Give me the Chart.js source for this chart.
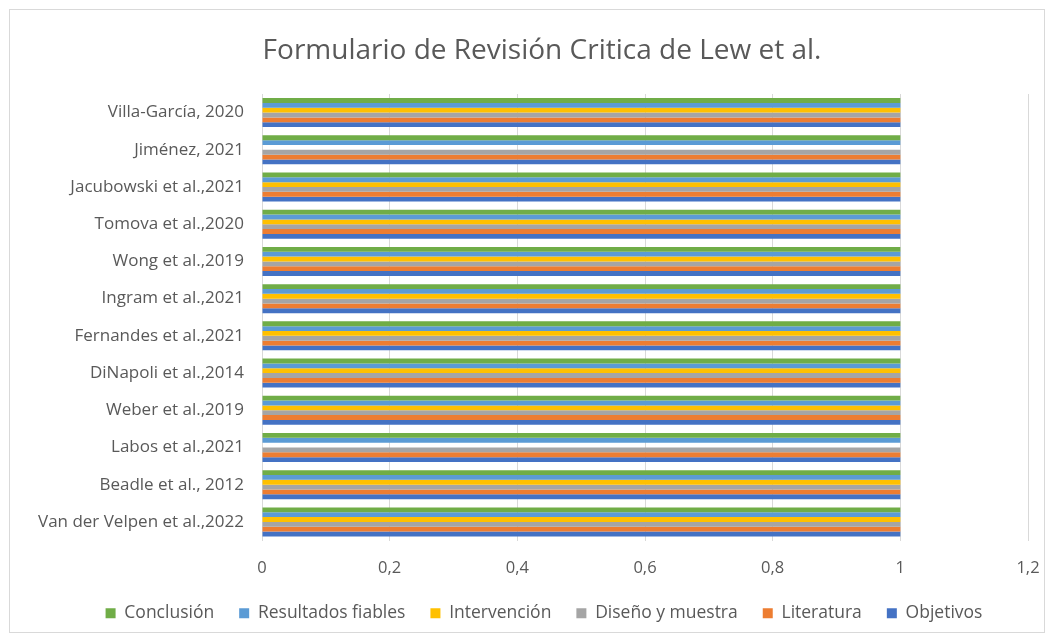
<!DOCTYPE html>
<html>
<head>
<meta charset="utf-8">
<script src="https://cdn.jsdelivr.net/npm/chart.js@4"></script>
<style>
  body { margin: 0; background: #fff; }
  #wrap { position: absolute; left: 9px; top: 9px; width: 1036px; height: 624px; border: 1px solid #d9d9d9; box-sizing: border-box; }
  #titulo { position: absolute; left: 0; top: 30px; width: 1084px; text-align: center; font-family: "Open Sans", "Noto Sans", sans-serif; font-size: 28px; color: #595959; line-height: 36px; }
  canvas { display: block; }
</style>
</head>
<body>
<div id="wrap"><canvas id="chart" width="1034" height="622"></canvas></div>
<div id="titulo">Formulario de Revisión Critica de Lew et al.</div>
<script>
const estudios = [
    'Villa-García, 2020',
    'Jiménez, 2021',
    'Jacubowski et al.,2021',
    'Tomova et al.,2020',
    'Wong et al.,2019',
    'Ingram et al.,2021',
    'Fernandes et al.,2021',
    'DiNapoli et al.,2014',
    'Weber et al.,2019',
    'Labos et al.,2021',
    'Beadle et al., 2012',
    'Van der Velpen et al.,2022'
];

const conclusion   = [1, 1, 1, 1, 1, 1, 1, 1, 1, 1, 1, 1];
const resultados   = [1, 1, 1, 1, 1, 1, 1, 1, 1, 1, 1, 1];
const intervencion = [1, 0, 1, 1, 1, 1, 1, 1, 1, 0, 1, 1];
const diseno       = [1, 1, 1, 1, 1, 1, 1, 1, 1, 1, 1, 1];
const literatura   = [1, 1, 1, 1, 1, 1, 1, 1, 1, 1, 1, 1];
const objetivos    = [1, 1, 1, 1, 1, 1, 1, 1, 1, 1, 1, 1];

const textColor = '#595959';
const fontFamily = '"Open Sans", "Noto Sans", sans-serif';

function serie(label, data, color) {
    return {
        label: label,
        data: data,
        backgroundColor: color,
        borderWidth: 0,
        barPercentage: 1,
        categoryPercentage: 0.78
    };
}

// let the long category labels run past the left padding instead of being clipped
const labelsSinRecorte = {
    id: 'labelsSinRecorte',
    afterLayout(chart) { chart.scales.y.left = 0; }
};

const ctx = document.getElementById('chart').getContext('2d');
new Chart(ctx, {
    type: 'bar',
    data: {
        labels: estudios,
        datasets: [
            serie('Conclusión', conclusion, '#70AD47'),
            serie('Resultados fiables', resultados, '#5B9BD5'),
            serie('Intervención', intervencion, '#FFC000'),
            serie('Diseño y muestra', diseno, '#A5A5A5'),
            serie('Literatura', literatura, '#ED7D31'),
            serie('Objetivos', objetivos, '#4472C4')
        ]
    },
    plugins: [labelsSinRecorte],
    options: {
        indexAxis: 'y',
        responsive: false,
        animation: false,
        layout: { padding: { left: 50, right: 16, top: 84, bottom: 0 } },
        scales: {
            x: {
                min: 0,
                max: 1.2,
                ticks: {
                    stepSize: 0.2,
                    color: textColor,
                    font: { family: fontFamily, size: 16.5 },
                    padding: 18,
                    callback: (v) => (Math.round(v * 10) / 10).toString().replace('.', ',')
                },
                grid: { color: '#d9d9d9', lineWidth: 1, drawTicks: false },
                border: { display: false },
                afterFit: (scale) => {
                    scale.paddingLeft = 0;
                    scale.paddingRight = 0;
                    scale.height = 39;
                }
            },
            y: {
                ticks: {
                    color: textColor,
                    font: { family: fontFamily, size: 17 },
                    padding: 10
                },
                grid: { display: false },
                border: { display: false },
                afterFit: (scale) => { scale.width = 202; }
            }
        },
        plugins: {
            title: { display: false },
            legend: {
                position: 'bottom',
                labels: {
                    color: textColor,
                    font: { family: fontFamily, size: 17.5 },
                    boxWidth: 10,
                    boxHeight: 10,
                    padding: 25
                }
            },
            tooltip: { enabled: false }
        }
    }
});
</script>
</body>
</html>
